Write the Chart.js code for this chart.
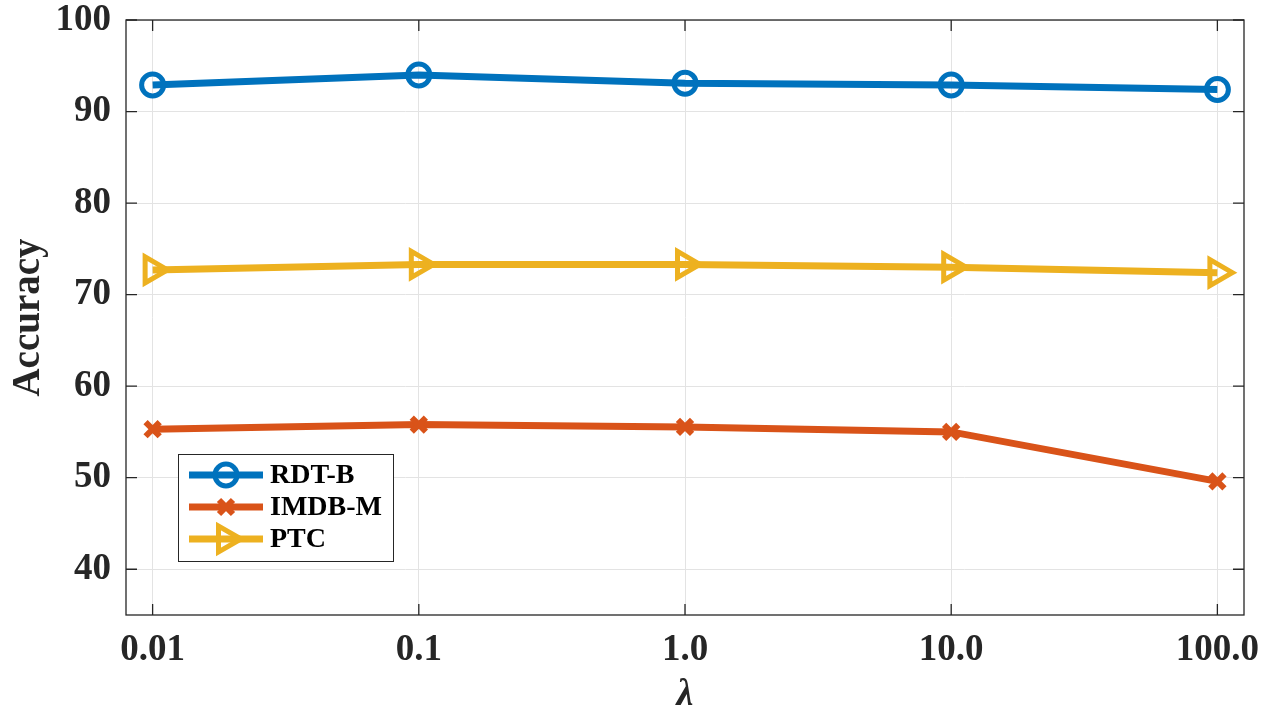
<!DOCTYPE html>
<html>
<head>
<meta charset="utf-8">
<script src="https://cdn.jsdelivr.net/npm/chart.js@4.4.1/dist/chart.umd.min.js"></script>
<style>
  html, body { margin: 0; padding: 0; background: #fff; }
  #wrap { width: 1270px; height: 713px; }
</style>
</head>
<body>
<div id="wrap"><canvas id="c" width="1270" height="713"></canvas></div>
<script>
const lambdaLabels = ['0.01', '0.1', '1.0', '10.0', '100.0'];
const xPositions = [0, 1, 2, 3, 4];
const rdtB = [92.9, 94.0, 93.1, 92.9, 92.4];
const imdbM = [55.3, 55.8, 55.55, 55.0, 49.6];
const ptc = [72.7, 73.3, 73.3, 73.0, 72.4];
const yTicks = [40, 50, 60, 70, 80, 90, 100];

const seriesNames = ['RDT-B', 'IMDB-M', 'PTC'];
const colors = ['#0072BD', '#D95319', '#EDB120'];
const axisColor = '#262626';
const FONT = "'Liberation Serif', 'Times New Roman', serif";

function toPts(arr) { return arr.map((v, i) => ({ x: xPositions[i], y: v })); }

function drawMarker(ctx, kind, x, y, color) {
  ctx.save();
  ctx.strokeStyle = color;
  ctx.fillStyle = color;
  if (kind === 'circle') {
    ctx.lineWidth = 5;
    ctx.beginPath(); ctx.arc(x, y, 11, 0, Math.PI * 2); ctx.stroke();
  } else if (kind === 'cross') {
    ctx.lineWidth = 6;
    const r = 7;
    ctx.beginPath();
    ctx.moveTo(x - r, y - r); ctx.lineTo(x + r, y + r);
    ctx.moveTo(x + r, y - r); ctx.lineTo(x - r, y + r);
    ctx.stroke();
  } else {
    ctx.lineWidth = 5;
    ctx.lineJoin = 'miter';
    const r = 15;
    ctx.beginPath();
    ctx.moveTo(x + r, y);
    ctx.lineTo(x - r / 2, y - r * 0.866);
    ctx.lineTo(x - r / 2, y + r * 0.866);
    ctx.closePath();
    ctx.stroke();
  }
  ctx.restore();
}

const frameAndLegend = {
  id: 'frameAndLegend',
  afterDraw(chart) {
    const ctx = chart.ctx;
    const a = chart.chartArea;
    const xs = chart.scales.x, ys = chart.scales.y;
    ctx.save();
    ctx.strokeStyle = axisColor;
    ctx.lineWidth = 1.3;
    ctx.strokeRect(a.left, a.top, a.right - a.left, a.bottom - a.top);
    const tl = 11;
    ctx.beginPath();
    xs.ticks.forEach(t => {
      const px = xs.getPixelForValue(t.value);
      ctx.moveTo(px, a.bottom); ctx.lineTo(px, a.bottom - tl);
      ctx.moveTo(px, a.top); ctx.lineTo(px, a.top + tl);
    });
    ys.ticks.forEach(t => {
      const py = ys.getPixelForValue(t.value);
      ctx.moveTo(a.left, py); ctx.lineTo(a.left + tl, py);
      ctx.moveTo(a.right, py); ctx.lineTo(a.right - tl, py);
    });
    ctx.stroke();

    // legend
    const bx = 178, by = 454, bw = 215, bh = 107;
    ctx.fillStyle = '#fff';
    ctx.fillRect(bx, by, bw, bh);
    ctx.lineWidth = 1;
    ctx.strokeStyle = axisColor;
    ctx.strokeRect(bx + 0.5, by + 0.5, bw, bh);
    const kinds = ['circle', 'cross', 'triangle'];
    const rowsY = [475, 507, 539];
    ctx.font = "bold 28px " + FONT;
    ctx.textBaseline = 'middle';
    ctx.textAlign = 'left';
    seriesNames.forEach((name, i) => {
      const y = rowsY[i];
      ctx.strokeStyle = colors[i];
      ctx.lineWidth = 7;
      ctx.beginPath(); ctx.moveTo(189, y); ctx.lineTo(263, y); ctx.stroke();
      drawMarker(ctx, kinds[i], 226, y, colors[i]);
      ctx.fillStyle = '#000';
      ctx.fillText(name, 270, y + 1);
    });
    ctx.restore();
  }
};

new Chart(document.getElementById('c'), {
  type: 'line',
  data: {
    datasets: [
      { label: seriesNames[0], data: toPts(rdtB), borderColor: colors[0], borderWidth: 7,
        pointStyle: 'circle', pointRadius: 11, pointBorderWidth: 5,
        pointBackgroundColor: 'rgba(0,0,0,0)', pointBorderColor: colors[0] },
      { label: seriesNames[1], data: toPts(imdbM), borderColor: colors[1], borderWidth: 7,
        pointStyle: 'crossRot', pointRadius: 10, pointBorderWidth: 6,
        pointBackgroundColor: colors[1], pointBorderColor: colors[1] },
      { label: seriesNames[2], data: toPts(ptc), borderColor: colors[2], borderWidth: 7,
        pointStyle: 'triangle', pointRotation: 90, pointRadius: 15, pointBorderWidth: 5,
        pointBackgroundColor: 'rgba(0,0,0,0)', pointBorderColor: colors[2] }
    ]
  },
  options: {
    responsive: false,
    animation: false,
    clip: false,
    layout: { padding: { top: 18, right: 26, left: 0, bottom: 0 } },
    plugins: { legend: { display: false }, tooltip: { enabled: false } },
    elements: { line: { tension: 0 } },
    scales: {
      x: {
        type: 'linear', min: -0.1, max: 4.1,
        afterBuildTicks: s => { s.ticks = xPositions.map(v => ({ value: v })); },
        afterFit: s => { s.height = 98; s.paddingLeft = 0; s.paddingRight = 0; },
        ticks: {
          callback: v => lambdaLabels[xPositions.indexOf(v)],
          font: { family: FONT, size: 37, weight: 'bold' }, color: axisColor,
          padding: 13, maxRotation: 0, autoSkip: false
        },
        grid: { color: '#e3e3e3', lineWidth: 1, drawTicks: false },
        border: { display: false },
        title: { display: true, text: 'λ', color: axisColor,
          font: { family: FONT, size: 38, weight: 'bold', style: 'italic' },
          padding: { top: 0, bottom: -5 } }
      },
      y: {
        min: 35, max: 100,
        afterBuildTicks: s => { s.ticks = yTicks.map(v => ({ value: v })); },
        afterFit: s => { s.width = 126; s.paddingTop = 0; s.paddingBottom = 0; },
        ticks: {
          font: { family: FONT, size: 37, weight: 'bold' }, color: axisColor, padding: 15
        },
        grid: { color: '#e3e3e3', lineWidth: 1, drawTicks: false },
        border: { display: false },
        title: { display: true, text: 'Accuracy', color: axisColor,
          font: { family: FONT, size: 39, weight: 'bold' },
          padding: { top: 6, bottom: 0 } }
      }
    }
  },
  plugins: [frameAndLegend]
});
</script>
</body>
</html>
